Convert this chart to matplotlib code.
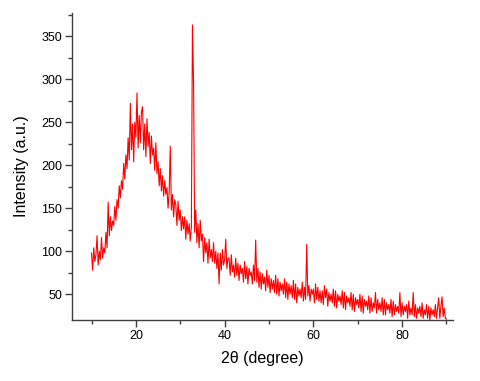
import numpy as np
import matplotlib.pyplot as plt

plt.rcParams['font.family'] = ['Liberation Sans', 'DejaVu Sans']

# 2theta grid: 10 .. 90 in 0.25 deg steps
two_theta = np.arange(10, 90.001, 0.25)

# intensity, four samples per degree (10 .. 89) plus the last point
intensity = [
    98, 78, 104, 88,      # 10
    96, 118, 84, 100,     # 11
    90, 116, 92, 104,     # 12
    98, 122, 104, 157,    # 13
    118, 140, 124, 135,   # 14
    130, 152, 136, 160,   # 15
    150, 176, 162, 182,   # 16
    172, 202, 184, 212,   # 17
    196, 232, 206, 272,   # 18
    218, 248, 204, 250,   # 19
    232, 284, 220, 258,   # 20
    226, 262, 268, 218,   # 21
    248, 210, 254, 222,   # 22
    238, 202, 234, 212,   # 23
    220, 194, 226, 190,   # 24
    204, 176, 196, 170,   # 25
    188, 164, 182, 166,   # 26
    174, 150, 168, 222,   # 27
    148, 166, 140, 160,   # 28
    154, 130, 158, 136,   # 29
    148, 124, 140, 126,   # 30
    140, 114, 136, 120,   # 31
    132, 112, 128, 363,   # 32
    295, 122, 148, 110,   # 33
    132, 104, 136, 112,   # 34
    120, 88, 116, 98,     # 35
    110, 86, 114, 92,     # 36
    102, 88, 110, 86,     # 37
    100, 80, 98, 62,      # 38
    98, 78, 102, 84,      # 39
    90, 114, 80, 92,      # 40
    92, 72, 96, 76,       # 41
    84, 70, 92, 72,       # 42
    86, 66, 84, 74,       # 43
    80, 64, 88, 68,       # 44
    82, 62, 80, 72,       # 45
    76, 62, 84, 66,       # 46
    113, 64, 80, 58,      # 47
    76, 56, 74, 62,       # 48
    70, 54, 78, 58,       # 49
    72, 52, 68, 56,       # 50
    66, 52, 72, 50,       # 51
    68, 48, 64, 54,       # 52
    62, 50, 68, 46,       # 53
    64, 44, 62, 50,       # 54
    60, 46, 66, 44,       # 55
    62, 40, 58, 48,       # 56
    56, 46, 64, 42,       # 57
    58, 44, 108, 48,      # 58
    60, 42, 56, 50,       # 59
    56, 40, 62, 44,       # 60
    58, 42, 54, 40,       # 61
    54, 38, 60, 46,       # 62
    56, 36, 52, 42,       # 63
    50, 40, 56, 36,       # 64
    54, 34, 50, 42,       # 65
    48, 38, 54, 34,       # 66
    52, 32, 48, 40,       # 67
    46, 36, 52, 32,       # 68
    50, 30, 46, 38,       # 69
    44, 34, 50, 30,       # 70
    48, 28, 44, 36,       # 71
    42, 32, 48, 28,       # 72
    46, 30, 40, 34,       # 73
    52, 28, 44, 32,       # 74
    40, 30, 46, 26,       # 75
    44, 26, 40, 32,       # 76
    38, 28, 44, 24,       # 77
    42, 26, 38, 30,       # 78
    36, 28, 52, 24,       # 79
    40, 26, 36, 30,       # 80
    38, 22, 42, 26,       # 81
    34, 26, 52, 24,       # 82
    38, 22, 34, 28,       # 83
    36, 24, 40, 22,       # 84
    32, 26, 38, 22,       # 85
    36, 20, 34, 26,       # 86
    32, 24, 38, 22,       # 87
    34, 46, 22, 36,       # 88
    47, 24, 34, 22,       # 89
    21,                   # 90
]

xticks = [20, 40, 60, 80]
yticks = [50, 100, 150, 200, 250, 300, 350]

fig = plt.figure(figsize=(4.8, 3.81), dpi=100)
ax = fig.add_axes([0.15, 0.16, 0.794, 0.806])
ax.plot(two_theta, intensity, color='red', lw=0.8)

ax.set_xlim(5.6, 91.5)
ax.set_ylim(20, 377)
ax.set_xticks(xticks)
ax.set_yticks(yticks)
ax.set_xticks([10, 30, 50, 70, 90], minor=True)
ax.set_yticks([75, 125, 175, 225, 275, 325, 375], minor=True)

for s in ['top', 'right']:
    ax.spines[s].set_visible(False)
for s in ['left', 'bottom']:
    ax.spines[s].set_color('#404040')
    ax.spines[s].set_linewidth(1.0)
ax.tick_params(which='major', direction='out', length=5, width=1, color='#404040',
               labelsize=9, pad=2)
ax.tick_params(which='minor', direction='out', length=3, width=1, color='#404040')

ax.set_xlabel('2θ (degree)', fontsize=11.5, labelpad=7)
ax.set_ylabel('Intensity (a.u.)', fontsize=11.5, labelpad=9)

fig.savefig('out.png', dpi=100)
